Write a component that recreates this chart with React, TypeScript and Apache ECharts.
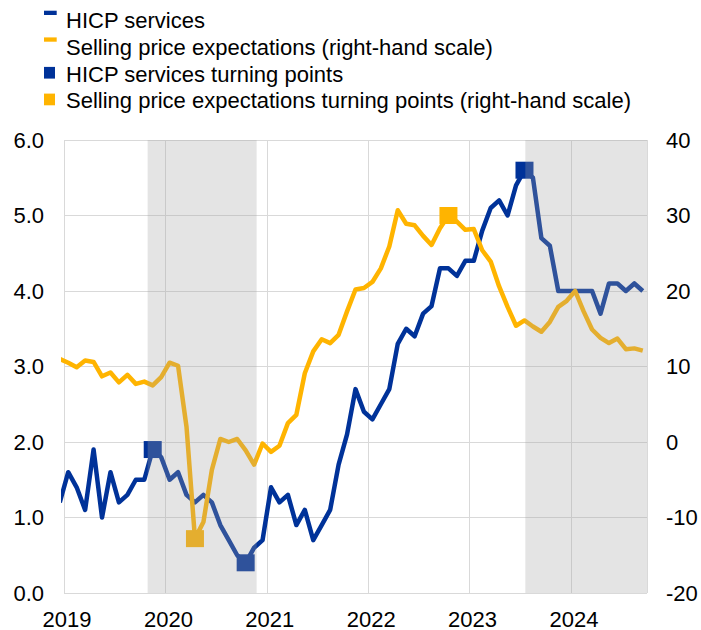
import React, { useEffect, useRef } from "react";
import * as echarts from "echarts";

// Monthly observations, Dec 2018 .. Sep 2024 (plotted at mid-month)
const firstMonth = "2018-12";
const hicpServices = [
  1.2,
  1.6, 1.4, 1.1, 1.9, 1.0, 1.6, 1.2, 1.3, 1.5, 1.5, 1.9, 1.8,
  1.5, 1.6, 1.3, 1.2, 1.3, 1.2, 0.9, 0.7, 0.5, 0.4, 0.6, 0.7,
  1.4, 1.2, 1.3, 0.9, 1.1, 0.7, 0.9, 1.1, 1.7, 2.1, 2.7, 2.4,
  2.3, 2.5, 2.7, 3.3, 3.5, 3.4, 3.7, 3.8, 4.3, 4.3, 4.2, 4.4,
  4.4, 4.8, 5.1, 5.2, 5.0, 5.4, 5.6, 5.5, 4.7, 4.6, 4.0, 4.0,
  4.0, 4.0, 4.0, 3.7, 4.1, 4.1, 4.0, 4.1, 4.0,
];
const sellingPriceExp = [
  11.0,
  10.5, 9.9, 10.8, 10.6, 8.7, 9.2, 7.9, 8.9, 7.7, 8.0, 7.5, 8.6,
  10.5, 10.1, 2.0, -12.8, -10.6, -3.7, 0.4, 0.0, 0.4, -1.1, -3.0, -0.2,
  -1.3, -0.5, 2.5, 3.6, 9.1, 12.0, 13.6, 13.1, 14.2, 17.3, 20.2, 20.4,
  21.2, 23.0, 25.9, 30.7, 28.9, 28.7, 27.3, 26.1, 28.3, 30.0, 29.2, 28.1,
  28.2, 25.4, 23.9, 20.6, 17.9, 15.4, 16.1, 15.3, 14.6, 15.9, 17.9, 18.7,
  20.0, 17.3, 14.9, 13.8, 13.1, 13.7, 12.3, 12.4, 12.1,
];
const hicpTurningDates = ["2019-11", "2020-10", "2023-07"];
const hicpTurningValues = [1.9, 0.4, 5.6];
const spTurningDates = ["2020-04", "2022-10"];
const spTurningValues = [-12.8, 30.0];
// shaded periods, in months since Jan 2019
const shadedStart = [9.9, 54.6];
const shadedEnd = [22.8, 69];
const yearLabels = ["2019", "2020", "2021", "2022", "2023", "2024"];
const legendNames = [
  "HICP services",
  "Selling price expectations (right-hand scale)",
  "HICP services turning points",
  "Selling price expectations turning points (right-hand scale)",
];

const BLUE = "#003299";
const YELLOW = "#ffb400";
const GRID = "#d9d9d9";
const FONT = "'Liberation Sans', Arial, sans-serif";

function monthIndex(d: string) {
  const [y, m] = d.split("-").map(Number);
  return (y - 2019) * 12 + (m - 1);
}

export default function App() {
  const ref = useRef<HTMLDivElement>(null);
  useEffect(() => {
    document.body.style.margin = "0";
    if (!ref.current) return;
    const chart = echarts.init(ref.current, null, { renderer: "svg" });
    const start = monthIndex(firstMonth);
    const blueData = hicpServices.map((v, i) => [start + i + 0.5, v]);
    const yellowData = sellingPriceExp.map((v, i) => [start + i + 0.5, v]);
    const blueTP = hicpTurningDates.map((d, i) => [monthIndex(d) + 0.5, hicpTurningValues[i]]);
    const yellowTP = spTurningDates.map((d, i) => [monthIndex(d) + 0.5, spTurningValues[i]]);

    const legendColors = [BLUE, YELLOW, BLUE, YELLOW];
    const graphics: any[] = [];
    legendNames.forEach((name, i) => {
      const cy = 20.8 + i * 26.7;
      const isLine = i < 2;
      graphics.push({
        type: "rect",
        left: 44,
        top: isLine ? cy - 10.1 : cy - 7.3,
        shape: { width: isLine ? 12.7 : 11, height: isLine ? 4.3 : 11.7 },
        style: { fill: legendColors[i] },
      });
      graphics.push({
        type: "text",
        x: 66,
        y: cy,
        style: {
          text: name,
          fill: "#000",
          font: `22px ${FONT}`,
          verticalAlign: "middle",
          align: "left",
        },
      });
    });

    chart.setOption({
      animation: false,
      textStyle: { fontFamily: FONT },
      grid: { left: 64, right: 54, top: 140, bottom: 37, containLabel: false },
      graphic: graphics,
      xAxis: {
        type: "value",
        min: 0,
        max: 69,
        interval: 12,
        axisLine: { show: false },
        axisTick: { show: false },
        splitLine: { show: true, lineStyle: { color: GRID, width: 1 } },
        axisLabel: {
          formatter: (v: number) => (v % 12 === 0 ? yearLabels[v / 12] ?? "" : ""),
          color: "#000",
          fontSize: 22,
          fontFamily: FONT,
          margin: 15,
          padding: [0, 0, 0, 6],
        },
      },
      yAxis: [
        {
          type: "value",
          position: "left",
          min: 0,
          max: 6,
          interval: 1,
          axisLine: { show: false },
          axisTick: { show: false },
          splitLine: { show: true, lineStyle: { color: GRID, width: 1 } },
          axisLabel: {
            formatter: (v: number) => v.toFixed(1),
            color: "#000",
            fontSize: 22,
            fontFamily: FONT,
            margin: 20,
          },
        },
        {
          type: "value",
          position: "right",
          min: -20,
          max: 40,
          interval: 10,
          axisLine: { show: false },
          axisTick: { show: false },
          splitLine: { show: false },
          axisLabel: {
            color: "#000",
            fontSize: 22,
            fontFamily: FONT,
            margin: 19,
          },
        },
      ],
      series: [
        {
          name: legendNames[0],
          type: "line",
          data: blueData,
          yAxisIndex: 0,
          showSymbol: false,
          symbol: "none",
          lineStyle: { color: BLUE, width: 4.5, join: "round" },
          itemStyle: { color: BLUE },
          z: 3,
        },
        {
          name: legendNames[1],
          type: "line",
          data: yellowData,
          yAxisIndex: 1,
          showSymbol: false,
          symbol: "none",
          lineStyle: { color: YELLOW, width: 4.5, join: "round" },
          itemStyle: { color: YELLOW },
          z: 4,
        },
        {
          name: legendNames[2],
          type: "scatter",
          data: blueTP,
          yAxisIndex: 0,
          symbol: "rect",
          symbolSize: [18, 17],
          itemStyle: { color: BLUE, opacity: 1 },
          z: 5,
        },
        {
          name: legendNames[3],
          type: "scatter",
          data: yellowTP,
          yAxisIndex: 1,
          symbol: "rect",
          symbolSize: [18, 17],
          itemStyle: { color: YELLOW, opacity: 1 },
          z: 5,
        },
        {
          name: "shading",
          type: "line",
          data: [],
          yAxisIndex: 0,
          z: 20,
          silent: true,
          markArea: {
            silent: true,
            z: 20,
            itemStyle: { color: "rgba(161,161,161,0.29)" },
            data: shadedStart.map((s, i) => [{ xAxis: s }, { xAxis: shadedEnd[i] }]),
          },
        },
      ],
    });
    return () => chart.dispose();
  }, []);
  return <div ref={ref} style={{ width: 701, height: 630 }} />;
}
